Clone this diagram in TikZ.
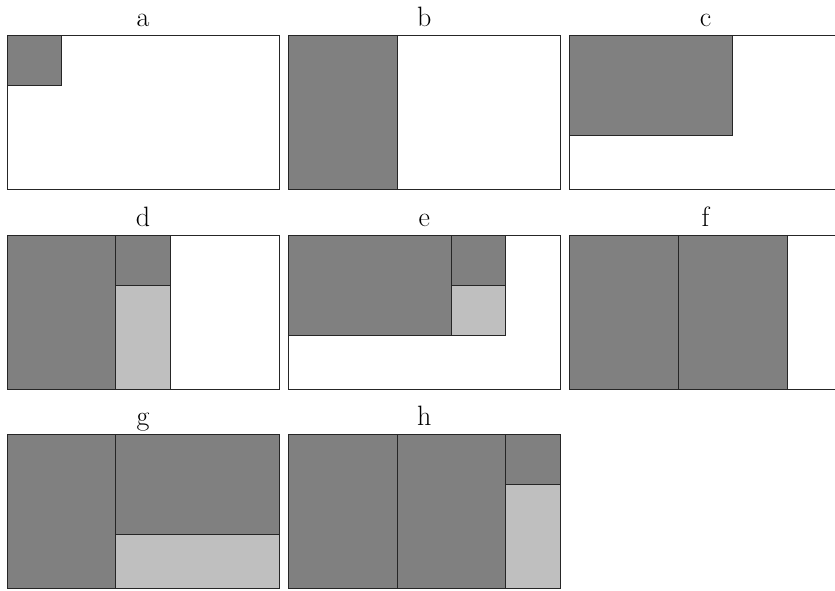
\documentclass[tikz,border=0pt]{standalone}
\begin{document}
\begin{tikzpicture}[x=1pt,y=-1pt,
  frame/.style={draw=black!85,line width=0.9pt,fill=white},
  dk/.style={draw=black!85,line width=0.9pt,fill=black!50},
  lt/.style={draw=black!85,line width=0.9pt,fill=black!25},
  lbl/.style={anchor=base,inner sep=0pt,font=\fontsize{28}{34}\selectfont}]
\useasboundingbox (0,0) rectangle (835,591);
\clip (0,0) rectangle (835,591);
% a
\begin{scope}[shift={(7,35.7)}]
  \draw[frame] (0,0) rectangle (272,154);
  \draw[dk] (0,0) rectangle (54.4,50);
  \node[lbl] (la) at (136,-9) {a};
\end{scope}
% b
\begin{scope}[shift={(288.3,35.7)}]
  \draw[frame] (0,0) rectangle (272,154);
  \draw[dk] (0,0) rectangle (108.8,154);
  \node[lbl] (lb) at (136,-9) {b};
\end{scope}
% c
\begin{scope}[shift={(569.5,35.7)}]
  \draw[frame] (0,0) rectangle (272,154);
  \draw[dk] (0,0) rectangle (163.2,100);
  \node[lbl] (lc) at (136,-9) {c};
\end{scope}
% d
\begin{scope}[shift={(7,235)}]
  \draw[frame] (0,0) rectangle (272,154);
  \draw[dk] (0,0) rectangle (108.8,154);
  \draw[dk] (108.8,0) rectangle (163.2,50);
  \draw[lt] (108.8,50) rectangle (163.2,154);
  \node[lbl] (ld) at (136,-9) {d};
\end{scope}
% e
\begin{scope}[shift={(288.3,235)}]
  \draw[frame] (0,0) rectangle (272,154);
  \draw[dk] (0,0) rectangle (163.2,100);
  \draw[dk] (163.2,0) rectangle (217.6,50);
  \draw[lt] (163.2,50) rectangle (217.6,100);
  \node[lbl] (le) at (136,-9) {e};
\end{scope}
% f
\begin{scope}[shift={(569.5,235)}]
  \draw[frame] (0,0) rectangle (272,154);
  \draw[dk] (0,0) rectangle (108.8,154);
  \draw[dk] (108.8,0) rectangle (217.6,154);
  \node[lbl] (lf) at (136,-9) {f};
\end{scope}
% g
\begin{scope}[shift={(7,434.3)}]
  \draw[frame] (0,0) rectangle (272,154);
  \draw[dk] (0,0) rectangle (108.8,154);
  \draw[dk] (108.8,0) rectangle (272,100);
  \draw[lt] (108.8,100) rectangle (272,154);
  \node[lbl] (lg) at (136,-9) {g};
\end{scope}
% h
\begin{scope}[shift={(288.3,434.3)}]
  \draw[frame] (0,0) rectangle (272,154);
  \draw[dk] (0,0) rectangle (108.8,154);
  \draw[dk] (108.8,0) rectangle (217.6,154);
  \draw[dk] (217.6,0) rectangle (272,50);
  \draw[lt] (217.6,50) rectangle (272,154);
  \node[lbl] (lh) at (136,-9) {h};
\end{scope}
\end{tikzpicture}
\end{document}
